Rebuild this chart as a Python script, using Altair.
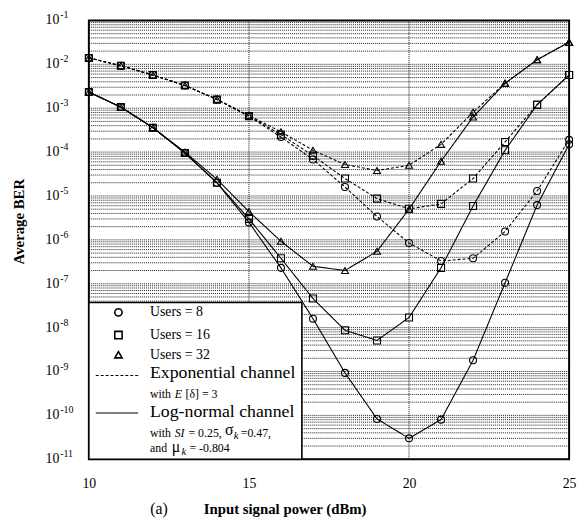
import altair as alt
import pandas as pd

# ---------------- data ----------------
power_dbm = [10, 11, 12, 13, 14, 15, 16, 17, 18, 19, 20, 21, 22, 23, 24, 25]

exp_users8 = [1.4e-2, 9.3e-3, 5.7e-3, 3.3e-3, 1.57e-3, 6.6e-4, 2.2e-4, 6.8e-5,
              1.6e-5, 3.4e-6, 8.5e-7, 3.3e-7, 3.8e-7, 1.55e-6, 1.3e-5, 1.9e-4]
exp_users16 = [1.4e-2, 9.3e-3, 5.7e-3, 3.3e-3, 1.57e-3, 6.6e-4, 2.5e-4, 8.3e-5,
               2.5e-5, 8.7e-6, 5.1e-6, 6.6e-6, 2.5e-5, 1.7e-4, 1.2e-3, 5.7e-3]
exp_users32 = [1.4e-2, 9.3e-3, 5.7e-3, 3.3e-3, 1.6e-3, 6.8e-4, 2.9e-4, 1.1e-4,
               5.2e-5, 3.8e-5, 5.0e-5, 1.5e-4, 8.1e-4, 3.7e-3, 1.27e-2, 3.2e-2]
ln_users8 = [2.33e-3, 1.06e-3, 3.6e-4, 9.5e-5, 2.0e-5, 2.5e-6, 2.3e-7, 1.6e-8,
             9.3e-10, 8.3e-11, 3.0e-11, 8.0e-11, 1.8e-9, 1.05e-7, 6.2e-6, 1.5e-4]
ln_users16 = [2.33e-3, 1.06e-3, 3.6e-4, 9.5e-5, 2.0e-5, 3.0e-6, 3.8e-7, 4.6e-8,
              8.7e-9, 5.1e-9, 1.7e-8, 2.3e-7, 5.9e-6, 1.1e-4, 1.2e-3, 5.7e-3]
ln_users32 = [2.33e-3, 1.06e-3, 3.6e-4, 1.0e-4, 2.4e-5, 4.4e-6, 9.3e-7, 2.5e-7,
              2.0e-7, 5.5e-7, 5.0e-6, 6.2e-5, 6.3e-4, 3.7e-3, 1.27e-2, 3.2e-2]

channels = ["Exponential", "Log-normal"]
users = ["8", "16", "32"]
series = {
    ("Exponential", "8"): exp_users8,
    ("Exponential", "16"): exp_users16,
    ("Exponential", "32"): exp_users32,
    ("Log-normal", "8"): ln_users8,
    ("Log-normal", "16"): ln_users16,
    ("Log-normal", "32"): ln_users32,
}

decade_exponents = [-1, -2, -3, -4, -5, -6, -7, -8, -9, -10, -11]
x_tick_values = [10, 15, 20, 25]
x_grid_values = [15, 20]

rows = []
for (ch, u), vals in series.items():
    for x, v in zip(power_dbm, vals):
        rows.append({"x": x, "ber": v, "channel": ch, "users": u, "series": ch + u})
df = pd.DataFrame(rows)

hgrid_df = pd.DataFrame({"ber": [m * 10.0 ** k for k in range(-11, -1) for m in range(1, 10)]})
vgrid_df = pd.DataFrame({"x": x_grid_values})
dec_df = pd.DataFrame({"val": [10.0 ** e for e in decade_exponents],
                       "exp": [str(e) for e in decade_exponents]})

# ---------------- styling ----------------
SERIF = "Liberation Serif"
W, H = 487, 445

xscale = alt.Scale(domain=[10, 25], nice=False, zero=False)
yscale = alt.Scale(type="log", domain=[1e-11, 1e-1], nice=False)

x_axis = alt.Axis(values=x_tick_values, ticks=False, domain=False, title=None, grid=False,
                  labelFont=SERIF, labelFontSize=14, labelColor="black",
                  labelPadding=18, labelAngle=0, labelFlush=False)

X = alt.X("x:Q", scale=xscale, axis=x_axis)
Y = alt.Y("ber:Q", scale=yscale, axis=None)

hgrid = alt.Chart(hgrid_df).mark_rule(color="#111", strokeWidth=1, strokeDash=[1, 1],
                                      opacity=0.95).encode(y=Y)
vgrid = alt.Chart(vgrid_df).mark_rule(color="#111", strokeWidth=1, strokeDash=[1, 1],
                                      opacity=1).encode(x=X)

base = alt.Chart(df)

lines = base.mark_line(color="black", strokeWidth=1.1).encode(
    x=X, y=Y,
    strokeDash=alt.StrokeDash("channel:N", scale=alt.Scale(domain=channels, range=[[3, 2], [1, 0]]),
                              legend=None),
    detail="series:N",
)

points = base.mark_point(filled=False, color="black", size=50, strokeWidth=1.1, opacity=1).encode(
    x=X, y=Y,
    shape=alt.Shape("users:N", scale=alt.Scale(domain=users, range=["circle", "square", "triangle-up"]),
                    legend=None),
)

# y tick labels drawn as "10" with superscript exponent
ylab_base = alt.Chart(dec_df).mark_text(font=SERIF, fontSize=14, color="black",
                                        align="right", baseline="middle").encode(
    x=alt.value(-30),
    y=alt.Y("val:Q", scale=yscale, axis=None),
    text=alt.value("10"),
)
ylab_exp = alt.Chart(dec_df).mark_text(font=SERIF, fontSize=10, color="black",
                                       align="left", baseline="middle", dy=-5).encode(
    x=alt.value(-29),
    y=alt.Y("val:Q", scale=yscale, axis=None),
    text="exp:N",
)

one = alt.Data(values=[{}])


def txt(s, x, y, size=14, style="normal", weight="normal", align="left", angle=0):
    return alt.Chart(one).mark_text(text=s, font=SERIF, fontSize=size, fontStyle=style,
                                    fontWeight=weight, align=align, baseline="middle",
                                    angle=angle, color="black").encode(
        x=alt.value(x), y=alt.value(y))


def sym(shape, x, y):
    return alt.Chart(one).mark_point(shape=shape, filled=False, color="black", size=55,
                                     strokeWidth=1.6, opacity=1).encode(
        x=alt.value(x), y=alt.value(y))


def seg(x1, x2, y, dash):
    return alt.Chart(one).mark_rule(color="black", strokeWidth=1.1, strokeDash=dash).encode(
        x=alt.value(x1), x2=alt.value(x2), y=alt.value(y))


legend_box = alt.Chart(one).mark_rect(fill="white", stroke="black", strokeWidth=1.6).encode(
    x=alt.value(0), x2=alt.value(216), y=alt.value(286), y2=alt.value(H))

S = 12
legend_layers = [
    legend_box,
    sym("circle", 30, 296), txt("Users = 8", 62, 296),
    sym("square", 30, 319), txt("Users = 16", 62, 319),
    sym("triangle-up", 30, 339), txt("Users = 32", 62, 339),
    seg(7, 50, 360, [3, 2]), txt("Exponential channel", 62, 358, size=18),
    txt("with", 62, 379, size=S), txt("E", 87, 379, size=S, style="italic"),
    txt("[\u03b4] = 3", 98, 379, size=S),
    seg(7, 50, 398, [1, 0]), txt("Log-normal channel", 62, 397, size=18),
    txt("with", 62, 418, size=S), txt("SI", 87, 418, size=S, style="italic"),
    txt("= 0.25,", 101, 418, size=S), txt("\u03c3", 138, 415, size=16),
    txt("k", 147, 421, size=11, style="italic"), txt("=0.47,", 154, 418, size=S),
    txt("and", 62, 434, size=S), txt("\u03bc", 84, 433, size=16),
    txt("k", 94, 438, size=11, style="italic"), txt("= -0.804", 102, 434, size=S),
]

titles = [
    txt("(a)", 71, 496, size=16, align="center"),
    txt("Input signal power (dBm)", 199, 496, size=15, weight="bold", align="center"),
    txt("Average BER", -71, 204, size=15, weight="bold", align="center", angle=270),
]

chart = alt.layer(hgrid, vgrid, lines, points, ylab_base, ylab_exp,
                  *legend_layers, *titles).properties(
    width=W, height=H,
    padding={"left": 82, "top": 9, "right": 8, "bottom": 60},
    autosize=alt.AutoSizeParams(type="none"),
    background="white",
).configure_view(stroke="black", strokeWidth=2)

chart.save("out.html", embed_options={"renderer": "svg", "actions": False})
